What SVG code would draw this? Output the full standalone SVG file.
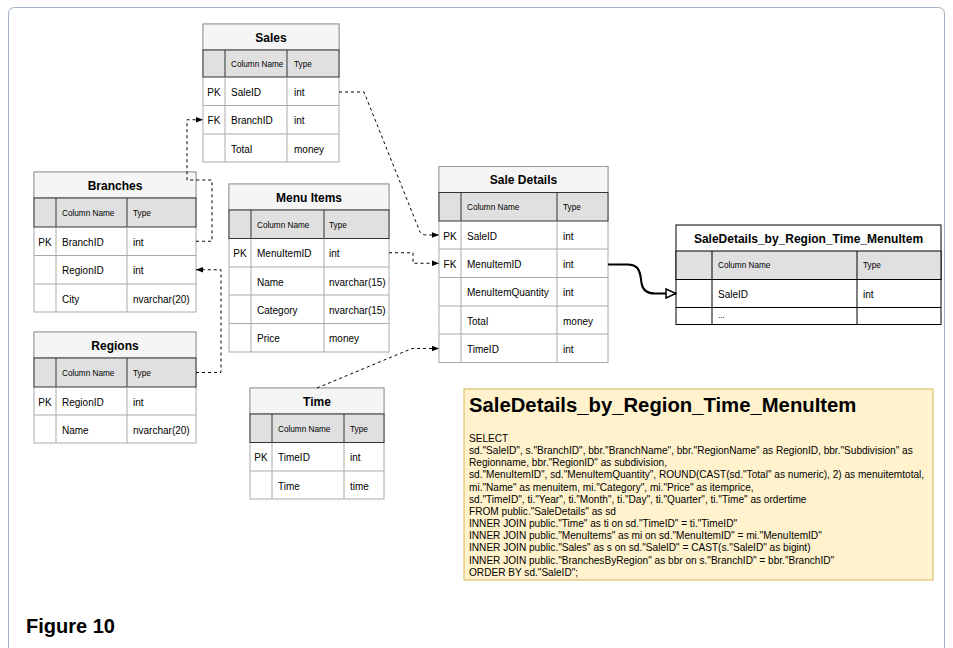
<svg xmlns="http://www.w3.org/2000/svg" width="953" height="648" viewBox="0 0 953 648">
<style>
.ttl{fill:#f5f5f5;stroke:#999;stroke-width:1}
.hdr{fill:#e0e0e0;stroke:#333;stroke-width:1}
.row{fill:#fff;stroke:#aaa;stroke-width:1}
.dv{stroke:#aaa;stroke-width:1}
.hdv{stroke:#333;stroke-width:1}
.bk{stroke:#000}
text{font-family:"Liberation Sans",Arial,sans-serif;fill:#000}
.t{font-size:12px;font-weight:bold;text-anchor:middle}
.ch{font-size:8.2px}
.c{font-size:10px}
.k{font-size:10px;text-anchor:middle}
.sql{font-size:10.1px}
.cn{fill:none;stroke:#000;stroke-width:1;stroke-dasharray:3 3}
</style>
<defs>
<marker id="ah" viewBox="0 0 10 10" refX="10" refY="5" markerWidth="7" markerHeight="7" markerUnits="userSpaceOnUse" orient="auto">
<path d="M0 1 L10 5 L0 9 z" fill="#000"/>
</marker>
<marker id="oh" viewBox="0 0 12 12" refX="11" refY="6" markerWidth="12" markerHeight="12" markerUnits="userSpaceOnUse" orient="auto">
<path d="M1 1.5 L11 6 L1 10.5 z" fill="#fff" stroke="#000" stroke-width="1.5"/>
</marker>
</defs>
<rect width="953" height="648" fill="#fff"/>
<path d="M8.5 660 V14 Q8.5 7.5 15 7.5 H938 Q944.5 7.5 944.5 14 V660" fill="none" stroke="#a3b2c4" stroke-width="1"/>

<g id="sales">
<rect class="row" x="203" y="24" width="136" height="138"/>
<rect class="ttl" x="203" y="24" width="136" height="26"/>
<text class="t" x="271" y="41.5">Sales</text>
<rect class="hdr" x="203" y="50" width="136" height="27"/>
<line class="hdv" x1="225" y1="50" x2="225" y2="77"/><line class="hdv" x1="287" y1="50" x2="287" y2="77"/>
<text class="ch" x="231" y="66.5">Column Name</text><text class="ch" x="294" y="66.5">Type</text>
<line class="dv" x1="203" y1="105.5" x2="339" y2="105.5"/><line class="dv" x1="203" y1="134" x2="339" y2="134"/>
<line class="dv" x1="225" y1="77" x2="225" y2="162"/><line class="dv" x1="287" y1="77" x2="287" y2="162"/>
<text class="k" x="214" y="95.5">PK</text><text class="c" x="231" y="95.5">SaleID</text><text class="c" x="294" y="95.5">int</text>
<text class="k" x="214" y="124">FK</text><text class="c" x="231" y="124">BranchID</text><text class="c" x="294" y="124">int</text>
<text class="c" x="231" y="152.5">Total</text><text class="c" x="294" y="152.5">money</text>
</g>

<g id="branches">
<rect class="row" x="34" y="172" width="162" height="140"/>
<rect class="ttl" x="34" y="172" width="162" height="26"/>
<text class="t" x="115" y="189.5">Branches</text>
<rect class="hdr" x="34" y="198" width="162" height="29"/>
<line class="hdv" x1="56" y1="198" x2="56" y2="227"/><line class="hdv" x1="127" y1="198" x2="127" y2="227"/>
<text class="ch" x="62" y="215.5">Column Name</text><text class="ch" x="133" y="215.5">Type</text>
<line class="dv" x1="34" y1="255.5" x2="196" y2="255.5"/><line class="dv" x1="34" y1="284" x2="196" y2="284"/>
<line class="dv" x1="56" y1="227" x2="56" y2="312"/><line class="dv" x1="127" y1="227" x2="127" y2="312"/>
<text class="k" x="45" y="245.5">PK</text><text class="c" x="62" y="245.5">BranchID</text><text class="c" x="133" y="245.5">int</text>
<text class="c" x="62" y="274">RegionID</text><text class="c" x="133" y="274">int</text>
<text class="c" x="62" y="302.5">City</text><text class="c" x="133" y="302.5">nvarchar(20)</text>
</g>

<g id="regions">
<rect class="row" x="34" y="332" width="162" height="111"/>
<rect class="ttl" x="34" y="332" width="162" height="26"/>
<text class="t" x="115" y="349.5">Regions</text>
<rect class="hdr" x="34" y="358" width="162" height="29"/>
<line class="hdv" x1="56" y1="358" x2="56" y2="387"/><line class="hdv" x1="127" y1="358" x2="127" y2="387"/>
<text class="ch" x="62" y="375.5">Column Name</text><text class="ch" x="133" y="375.5">Type</text>
<line class="dv" x1="34" y1="415" x2="196" y2="415"/>
<line class="dv" x1="56" y1="387" x2="56" y2="443"/><line class="dv" x1="127" y1="387" x2="127" y2="443"/>
<text class="k" x="45" y="405.5">PK</text><text class="c" x="62" y="405.5">RegionID</text><text class="c" x="133" y="405.5">int</text>
<text class="c" x="62" y="433.5">Name</text><text class="c" x="133" y="433.5">nvarchar(20)</text>
</g>

<g id="menuitems">
<rect class="row" x="229" y="184" width="160" height="168"/>
<rect class="ttl" x="229" y="184" width="160" height="26"/>
<text class="t" x="309" y="201.5">Menu Items</text>
<rect class="hdr" x="229" y="210" width="160" height="28.5"/>
<line class="hdv" x1="251" y1="210" x2="251" y2="238.5"/><line class="hdv" x1="324" y1="210" x2="324" y2="238.5"/>
<text class="ch" x="257" y="227.5">Column Name</text><text class="ch" x="329" y="227.5">Type</text>
<line class="dv" x1="229" y1="267" x2="389" y2="267"/><line class="dv" x1="229" y1="295" x2="389" y2="295"/><line class="dv" x1="229" y1="323.5" x2="389" y2="323.5"/>
<line class="dv" x1="251" y1="238.5" x2="251" y2="352"/><line class="dv" x1="324" y1="238.5" x2="324" y2="352"/>
<text class="k" x="240" y="257">PK</text><text class="c" x="257" y="257">MenuItemID</text><text class="c" x="329" y="257">int</text>
<text class="c" x="257" y="285.5">Name</text><text class="c" x="329" y="285.5">nvarchar(15)</text>
<text class="c" x="257" y="313.5">Category</text><text class="c" x="329" y="313.5">nvarchar(15)</text>
<text class="c" x="257" y="342">Price</text><text class="c" x="329" y="342">money</text>
</g>

<g id="time">
<rect class="row" x="250" y="388" width="134" height="111"/>
<rect class="ttl" x="250" y="388" width="134" height="26"/>
<text class="t" x="317" y="405.5">Time</text>
<rect class="hdr" x="250" y="414" width="134" height="28.5"/>
<line class="hdv" x1="272" y1="414" x2="272" y2="442.5"/><line class="hdv" x1="344" y1="414" x2="344" y2="442.5"/>
<text class="ch" x="278" y="431.5">Column Name</text><text class="ch" x="350" y="431.5">Type</text>
<line class="dv" x1="250" y1="471" x2="384" y2="471"/>
<line class="dv" x1="272" y1="442.5" x2="272" y2="499"/><line class="dv" x1="344" y1="442.5" x2="344" y2="499"/>
<text class="k" x="261" y="461">PK</text><text class="c" x="278" y="461">TimeID</text><text class="c" x="350" y="461">int</text>
<text class="c" x="278" y="489.5">Time</text><text class="c" x="350" y="489.5">time</text>
</g>

<g id="saledetails">
<rect class="row" x="439" y="166.5" width="169" height="196"/>
<rect class="ttl" x="439" y="166.5" width="169" height="26"/>
<text class="t" x="523.5" y="184">Sale Details</text>
<rect class="hdr" x="439" y="192.5" width="169" height="28.5"/>
<line class="hdv" x1="461" y1="192.5" x2="461" y2="221"/><line class="hdv" x1="557" y1="192.5" x2="557" y2="221"/>
<text class="ch" x="467" y="210">Column Name</text><text class="ch" x="563" y="210">Type</text>
<line class="dv" x1="439" y1="249" x2="608" y2="249"/><line class="dv" x1="439" y1="277.5" x2="608" y2="277.5"/><line class="dv" x1="439" y1="306" x2="608" y2="306"/><line class="dv" x1="439" y1="334" x2="608" y2="334"/>
<line class="dv" x1="461" y1="221" x2="461" y2="362.5"/><line class="dv" x1="557" y1="221" x2="557" y2="362.5"/>
<text class="k" x="450" y="239.5">PK</text><text class="c" x="467" y="239.5">SaleID</text><text class="c" x="563" y="239.5">int</text>
<text class="k" x="450" y="267.5">FK</text><text class="c" x="467" y="267.5">MenuItemID</text><text class="c" x="563" y="267.5">int</text>
<text class="c" x="467" y="296">MenuItemQuantity</text><text class="c" x="563" y="296">int</text>
<text class="c" x="467" y="324.5">Total</text><text class="c" x="563" y="324.5">money</text>
<text class="c" x="467" y="352.5">TimeID</text><text class="c" x="563" y="352.5">int</text>
</g>

<g id="view">
<rect x="676" y="225" width="265" height="99.5" fill="#fff" stroke="#000"/>
<text class="t" x="808.5" y="242.5">SaleDetails_by_Region_Time_MenuItem</text>
<rect x="676" y="251" width="265" height="28.5" fill="#e0e0e0" stroke="#000"/>
<line class="bk" x1="712" y1="251" x2="712" y2="324.5"/><line class="bk" x1="857" y1="251" x2="857" y2="324.5"/>
<line class="bk" x1="676" y1="307.5" x2="941" y2="307.5"/>
<text class="ch" x="718" y="268">Column Name</text><text class="ch" x="863" y="268">Type</text>
<text class="c" x="718" y="297.5">SaleID</text><text class="c" x="863" y="297.5">int</text>
<text class="ch" x="718" y="318" fill="#555">...</text>
</g>

<g id="note">
<rect x="464" y="389" width="469" height="191" fill="#fff2cc" stroke="#d6b656"/>
<text x="469" y="412" font-size="20.3" font-weight="bold">SaleDetails_by_Region_Time_MenuItem</text>
<text class="sql" x="469" y="442">SELECT</text>
<text class="sql" x="469" y="454.15">sd."SaleID", s."BranchID", bbr."BranchName", bbr."RegionName" as RegionID, bbr."Subdivision" as</text>
<text class="sql" x="469" y="466.3">Regionname, bbr."RegionID" as subdivision,</text>
<text class="sql" x="469" y="478.45">sd."MenuItemID", sd."MenuItemQuantity", ROUND(CAST(sd."Total" as numeric), 2) as menuitemtotal,</text>
<text class="sql" x="469" y="490.6">mi."Name" as menuitem, mi."Category", mi."Price" as itemprice,</text>
<text class="sql" x="469" y="502.75">sd."TimeID", ti."Year", ti."Month", ti."Day", ti."Quarter", ti."Time" as ordertime</text>
<text class="sql" x="469" y="514.9">FROM public."SaleDetails" as sd</text>
<text class="sql" x="469" y="527.05">INNER JOIN public."Time" as ti on sd."TimeID" = ti."TimeID"</text>
<text class="sql" x="469" y="539.2">INNER JOIN public."MenuItems" as mi on sd."MenuItemID" = mi."MenuItemID"</text>
<text class="sql" x="469" y="551.35">INNER JOIN public."Sales" as s on sd."SaleID" = CAST(s."SaleID" as bigint)</text>
<text class="sql" x="469" y="563.5">INNER JOIN public."BranchesByRegion" as bbr on s."BranchID" = bbr."BranchID"</text>
<text class="sql" x="469" y="575.65">ORDER BY sd."SaleID";</text>
</g>

<g id="connectors">
<path class="cn" d="M339 92 H364 L420 232 Q422 235 427 235 H439" marker-end="url(#ah)"/>
<path class="cn" d="M389 252.75 H413 V263.25 H439" marker-end="url(#ah)"/>
<path class="cn" d="M317 388 L412 348.5 H439" marker-end="url(#ah)"/>
<path class="cn" d="M196 241.25 H212 V180 H187 V119.75 H203" marker-end="url(#ah)"/>
<path class="cn" d="M196 372.5 H221 V269.75 H196" marker-end="url(#ah)"/>
<path d="M608 264.5 H628 Q639 264.5 640.5 276 L641.5 283 Q643 293.5 655 293.5 H676" fill="none" stroke="#000" stroke-width="2" marker-end="url(#oh)"/>
</g>

<text x="26" y="633" font-size="20" font-weight="bold">Figure 10</text>
</svg>
